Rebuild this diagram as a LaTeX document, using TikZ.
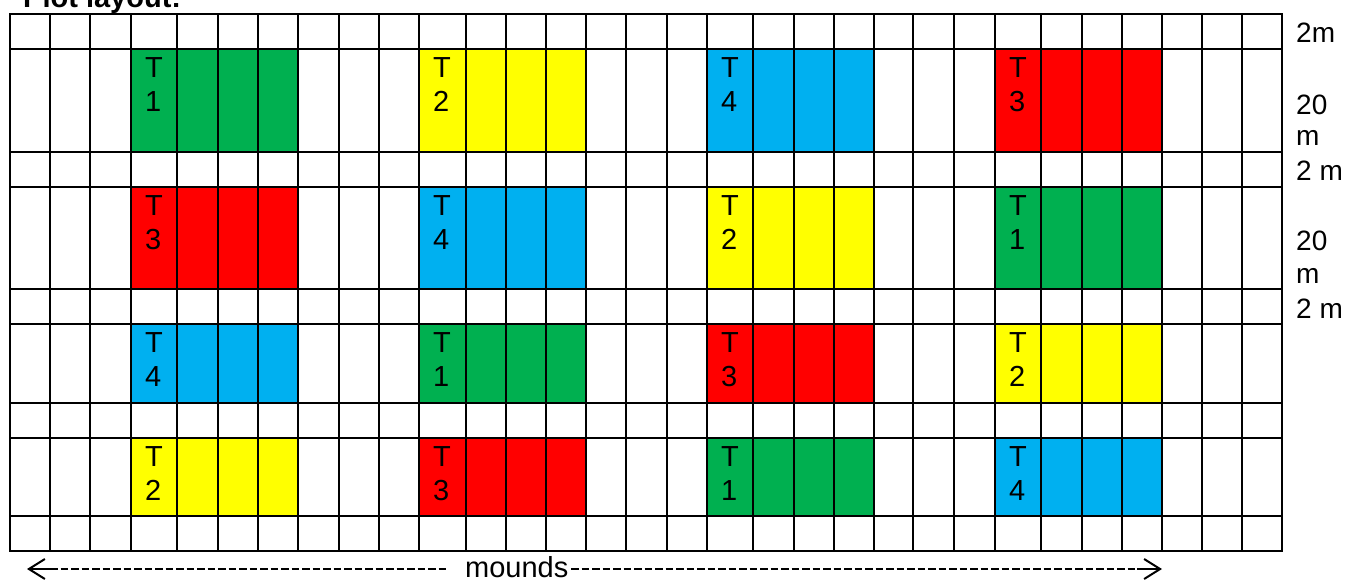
\documentclass[tikz,border=0pt]{standalone}
\usepackage{fontspec}
\setmainfont{Liberation Sans}
\usetikzlibrary{arrows.meta}
\definecolor{tgreen}{HTML}{00B050}
\definecolor{tyellow}{HTML}{FFFF00}
\definecolor{tblue}{HTML}{00B0F0}
\definecolor{tred}{HTML}{FF0000}
\begin{document}
\begin{tikzpicture}[x=1pt,y=-1pt,
  gridline/.style={line width=2pt,black,line cap=rect},
  tlabel/.style={anchor=base west,inner sep=0pt,font=\fontsize{29}{34}\selectfont},
  rlabel/.style={anchor=base west,inner sep=0pt,font=\fontsize{28}{32}\selectfont},
  dashline/.style={line width=2pt,dash pattern=on 7.5pt off 3pt},
  arrowshaft/.style={line width=2pt,-{Straight Barb[length=16pt,width=20pt,line width=2pt]}}]
\useasboundingbox (0,0) rectangle (1347,579);
% coloured plots: left x / top y / bottom y / colour / label / row-col
\foreach \xl/\yt/\yb/\col/\lab/\nm in {
  131/49/152/tgreen/1/a1, 419/49/152/tyellow/2/a2, 707/49/152/tblue/4/a3, 995/49/152/tred/3/a4,
  131/187/289/tred/3/b1, 419/187/289/tblue/4/b2, 707/187/289/tyellow/2/b3, 995/187/289/tgreen/1/b4,
  131/324/403/tblue/4/c1, 419/324/403/tgreen/1/c2, 707/324/403/tred/3/c3, 995/324/403/tyellow/2/c4,
  131/438/516/tyellow/2/d1, 419/438/516/tred/3/d2, 707/438/516/tgreen/1/d3, 995/438/516/tblue/4/d4}{
  \fill[\col] (\xl,\yt) rectangle ({\xl+167},\yb);
  \node[tlabel] (T-\nm) at ({\xl+14},{\yt+28}) {T};
  \node[tlabel] (N-\nm) at ({\xl+14},{\yt+62}) {\lab};
}
% grid
\foreach \x in {10,50,90,131,177,218,258,298,339,379,419,466,506,546,586,626,667,707,753,794,834,874,913,954,995,1041,1082,1122,1162,1202,1242,1282}
  \draw[gridline] (\x,14) -- (\x,551);
\foreach \y in {14,49,152,187,289,324,403,438,516,551}
  \draw[gridline] (10,\y) -- (1282,\y);
% title (cut by the top edge)
\node[anchor=base west,inner sep=0pt,font=\bfseries\fontsize{29}{34}\selectfont] (title) at (23,7.5) {Plot layout:};
% right-hand dimension labels
\node[rlabel] (r1) at (1296,42) {2m};
\node[rlabel] (r2) at (1296,114) {20};
\node[rlabel] (r3) at (1296,145) {m};
\node[rlabel] (r4) at (1296,180) {2 m};
\node[rlabel] (r5) at (1296,250) {20};
\node[rlabel] (r6) at (1296,283) {m};
\node[rlabel] (r7) at (1296,318) {2 m};
% bottom: mounds
\node[tlabel] (mounds) at (465,577) {mounds};
\coordinate (ltip) at (27,569);
\coordinate (lshaft) at (50,569);
\coordinate (ldashend) at (447,569);
\coordinate (rdashstart) at (571,569);
\coordinate (rshaft) at (1137,569);
\coordinate (rtip) at (1162,569);
\draw[dashline] (lshaft) -- (ldashend);
\draw[dashline] (rdashstart) -- (rshaft);
\draw[arrowshaft] (lshaft) -- (ltip);
\draw[arrowshaft] (rshaft) -- (rtip);
\end{tikzpicture}
\end{document}
